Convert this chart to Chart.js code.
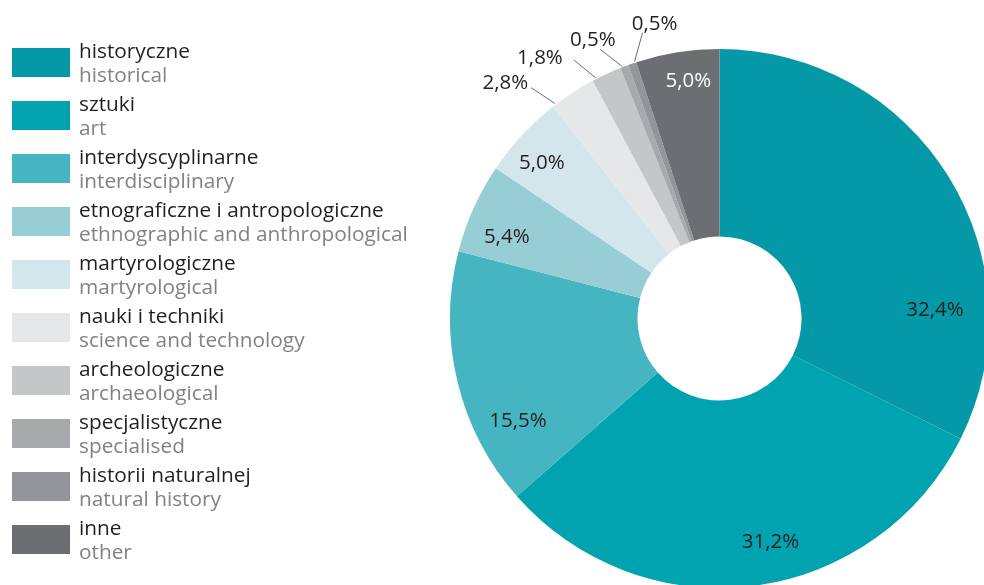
<!DOCTYPE html>
<html lang="pl">
<head>
<meta charset="utf-8">
<title>Muzea według rodzaju</title>
<script src="https://cdn.jsdelivr.net/npm/chart.js@4/dist/chart.umd.min.js"></script>
<style>
  html, body { margin: 0; padding: 0; background: #fff; }
  body { width: 984px; height: 585px; overflow: hidden; position: relative; font-family: "Open Sans", sans-serif; }
  #chart { position: absolute; left: 0; top: 0; }
  #legend { position: absolute; left: 0; top: 0; width: 440px; height: 585px; z-index: 2; }
  .swatch { position: absolute; left: 12px; width: 58px; height: 29px; }
  .txt { position: absolute; left: 79px; font-size: 20.8px; line-height: 24px; white-space: nowrap; }
  .pl { color: #231f20; }
  .en { color: #808285; }
</style>
</head>
<body>
<div id="legend"></div>
<canvas id="chart" width="984" height="585"></canvas>
<script>
// Museum types: Polish names, English names and their share (%)
const typesPl = ['historyczne', 'sztuki', 'interdyscyplinarne', 'etnograficzne i antropologiczne',
  'martyrologiczne', 'nauki i techniki', 'archeologiczne', 'specjalistyczne', 'historii naturalnej', 'inne'];
const typesEn = ['historical', 'art', 'interdisciplinary', 'ethnographic and anthropological',
  'martyrological', 'science and technology', 'archaeological', 'specialised', 'natural history', 'other'];
const shares = [32.4, 31.2, 15.5, 5.4, 5.0, 2.8, 1.8, 0.5, 0.5, 5.0];

const palette = ['#0599a7', '#00a3af', '#44b5c1', '#97cdd5', '#d2e6eb',
  '#e6e7e8', '#c4c6c8', '#a7a9ac', '#939598', '#6d6e71'];

const fmt = v => v.toFixed(1).replace('.', ',') + '%';

// HTML legend: coloured swatch + Polish name + English name
const legend = document.getElementById('legend');
const ROW = 53, FIRST_BASELINE = 58;
typesPl.forEach((pl, i) => {
  const base = FIRST_BASELINE + ROW * i;
  const sw = document.createElement('div');
  sw.className = 'swatch';
  sw.style.top = (base - 10) + 'px';
  sw.style.background = palette[i];
  legend.appendChild(sw);
  const a = document.createElement('div');
  a.className = 'txt pl';
  a.style.top = (base - 20) + 'px';
  a.textContent = pl;
  legend.appendChild(a);
  const b = document.createElement('div');
  b.className = 'txt en';
  b.style.top = (base + 4) + 'px';
  b.textContent = typesEn[i];
  legend.appendChild(b);
});

// Percent labels: inside the wide slices, with leader lines for the thin ones
const sliceText = {
  id: 'sliceText',
  afterDatasetsDraw(chart, args, opts) {
    const ctx = chart.ctx;
    const arcs = chart.getDatasetMeta(0).data;
    ctx.save();
    ctx.font = opts.font;
    arcs.forEach((arc, i) => {
      const p = arc.getProps(['x', 'y', 'startAngle', 'endAngle', 'outerRadius'], true);
      const span = p.endAngle - p.startAngle;
      const text = fmt(shares[i]);
      const inner = opts.inside[i];
      if (inner) {
        const a = p.startAngle + span * inner.at;
        const r = p.outerRadius * inner.r;
        ctx.fillStyle = inner.color || opts.color;
        ctx.textAlign = 'center';
        ctx.textBaseline = 'middle';
        ctx.fillText(text, p.x + Math.cos(a) * r, p.y + Math.sin(a) * r);
      }
      const c = opts.callouts[i];
      if (c) {
        const a = p.startAngle + span * c.at;
        const r = p.outerRadius + 1;
        const x0 = p.x + Math.cos(a) * r, y0 = p.y + Math.sin(a) * r;
        const x1 = x0 + c.dx, y1 = y0 + c.dy;
        ctx.strokeStyle = opts.lineColor;
        ctx.lineWidth = 1;
        ctx.beginPath();
        ctx.moveTo(x0, y0);
        ctx.lineTo(x1, y1);
        ctx.stroke();
        ctx.fillStyle = opts.color;
        ctx.textAlign = c.align;
        ctx.textBaseline = 'alphabetic';
        ctx.fillText(text, x1 + c.tx, y1 + c.ty);
      }
    });
    ctx.restore();
  }
};

new Chart(document.getElementById('chart'), {
  type: 'doughnut',
  data: {
    labels: typesPl,
    datasets: [{
      data: shares,
      backgroundColor: palette,
      borderWidth: 0,
      hoverOffset: 0,
      clip: false
    }]
  },
  options: {
    responsive: false,
    animation: false,
    events: [],
    rotation: 0,
    radius: 269.5,
    cutout: 80.5,
    layout: { padding: { left: 455, top: 52, right: 0, bottom: 0 } },
    plugins: {
      legend: { display: false },
      tooltip: { enabled: false },
      sliceText: {
        font: '20.5px "Open Sans"',
        color: '#231f20',
        lineColor: '#6d6e71',
        inside: {
          0: { at: 0.754, r: 0.80 },
          1: { at: 0.451, r: 0.85 },
          2: { at: 0.255, r: 0.84 },
          3: { at: 0.33, r: 0.845 },
          4: { at: 0.40, r: 0.875 },
          9: { at: 0.585, r: 0.89, color: '#ffffff' }
        },
        callouts: {
          5: { at: 0.07, dx: -24, dy: -16, align: 'right', tx: -3, ty: 1 },
          6: { at: 0.13, dx: -22, dy: -18, align: 'right', tx: -11, ty: 4 },
          7: { at: 0.24, dx: -22, dy: -17, align: 'center', tx: -7, ty: -3 },
          8: { at: 0.82, dx: 8, dy: -29, align: 'center', tx: 12, ty: -3 }
        }
      }
    }
  },
  plugins: [sliceText]
});
</script>
</body>
</html>
